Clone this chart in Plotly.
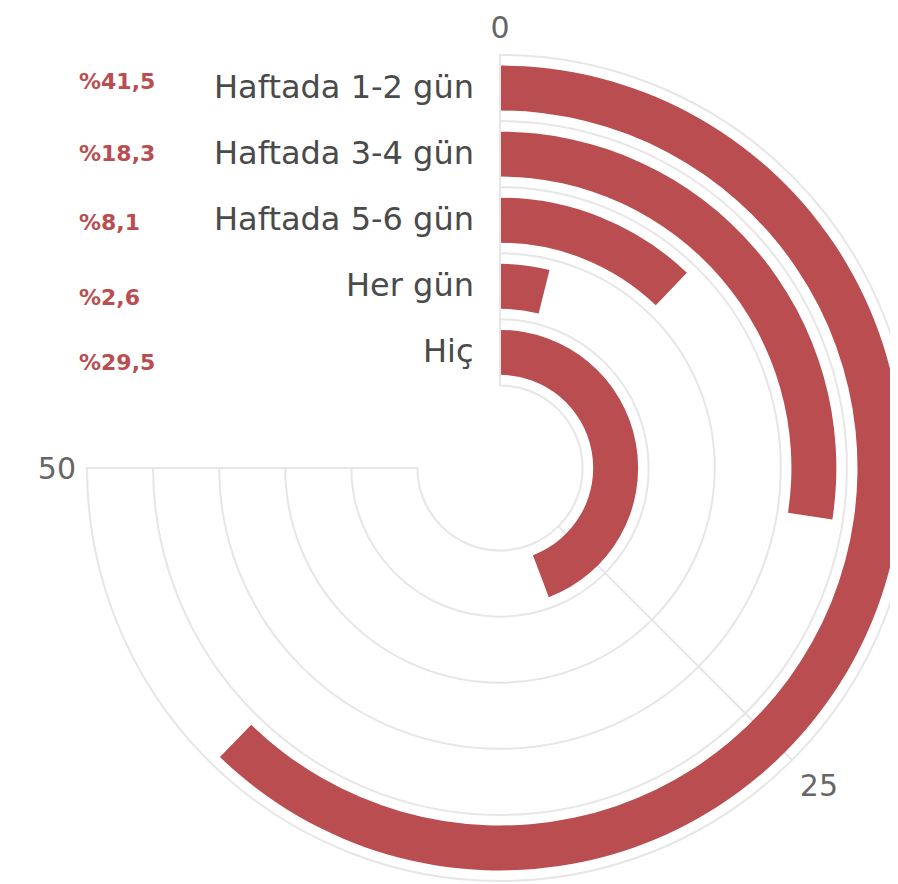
import plotly.graph_objects as go

# ---------------- data ----------------
categories = ["Haftada 1-2 gün", "Haftada 3-4 gün", "Haftada 5-6 gün", "Her gün", "Hiç"]
values = [41.5, 18.3, 8.1, 2.6, 29.5]
value_labels = ["%41,5", "%18,3", "%8,1", "%2,6", "%29,5"]
angular_tick_values = [0, 25, 50]
angular_tick_labels = ["0", "25", "50"]

# ---------------- style / geometry ----------------
PAGE = 8                            # browser body margin
W, H = 906, 876
CX, CY, R = 500 - PAGE, 468 - PAGE, 413   # polar centre and outer radius (figure px)
HOLE = 0.2
N_RINGS = len(categories)
BAR_THICK = 0.68                   # fraction of a ring occupied by a bar
DEG_PER_UNIT = 270 / 50            # value 50 sits at 270 degrees (clockwise from top)

BAR_COLOR = "#B94D50"
GRID_COLOR = "#E6E6E6"
TEXT_COLOR = "#4A4A4A"
TICK_COLOR = "#666666"
FONT = "DejaVu Sans"

rings = [N_RINGS - 1 - i for i in range(N_RINGS)]   # first category = outermost ring

fig = go.Figure()
fig.add_trace(go.Barpolar(
    r=[BAR_THICK] * N_RINGS,
    base=[k + (1 - BAR_THICK) / 2 for k in rings],
    theta=[v * DEG_PER_UNIT / 2 for v in values],
    width=[v * DEG_PER_UNIT for v in values],
    marker=dict(color=BAR_COLOR, line=dict(width=0)),
    hoverinfo="skip",
    showlegend=False,
))

# ring centre in px (for label placement)
hole_px = R * HOLE
ring_px = (R - hole_px) / N_RINGS
def ring_center_y(k):
    return CY - (hole_px + (k + 0.5) * ring_px)

annotations = []
for cat, k in zip(categories, rings):
    annotations.append(dict(
        text=cat, x=(476 - PAGE) / W, y=1 - (ring_center_y(k) - 1) / H, xref="paper", yref="paper",
        xanchor="right", yanchor="middle", showarrow=False,
        font=dict(family=FONT, size=32, color=TEXT_COLOR),
    ))
PCT_Y_PX = [82, 154, 222, 297, 362]
for lab, py in zip(value_labels, PCT_Y_PX):
    annotations.append(dict(
        text=lab, x=(77 - PAGE) / W, y=1 - (py - PAGE) / H, xref="paper", yref="paper",
        xanchor="left", yanchor="middle", showarrow=False,
        font=dict(family=FONT, size=22, color=BAR_COLOR, weight="bold"),
    ))

fig.update_layout(
    width=W, height=H,
    margin=dict(l=0, r=0, t=0, b=0),
    paper_bgcolor="white",
    plot_bgcolor="white",
    font=dict(family=FONT),
    showlegend=False,
    annotations=annotations,
    polar=dict(
        domain=dict(x=[(CX - R) / W, (CX + R) / W], y=[1 - (CY + R) / H, 1 - (CY - R) / H]),
        sector=[-180, 90],
        hole=HOLE,
        bgcolor="white",
        angularaxis=dict(
            rotation=90, direction="clockwise",
            tickmode="array",
            tickvals=[v * DEG_PER_UNIT for v in angular_tick_values],
            ticktext=angular_tick_labels,
            showgrid=True, gridcolor=GRID_COLOR, gridwidth=2,
            showline=True, linecolor=GRID_COLOR, linewidth=2,
            ticks="outside", ticklen=4, tickcolor="rgba(0,0,0,0)",
            tickfont=dict(family=FONT, size=30, color=TICK_COLOR),
        ),
        radialaxis=dict(
            range=[0, N_RINGS],
            tickmode="array", tickvals=list(range(N_RINGS + 1)),
            showticklabels=False, ticks="", showline=False,
            showgrid=True, gridcolor=GRID_COLOR, gridwidth=2,
        ),
    ),
)

fig.write_html("out.html")
